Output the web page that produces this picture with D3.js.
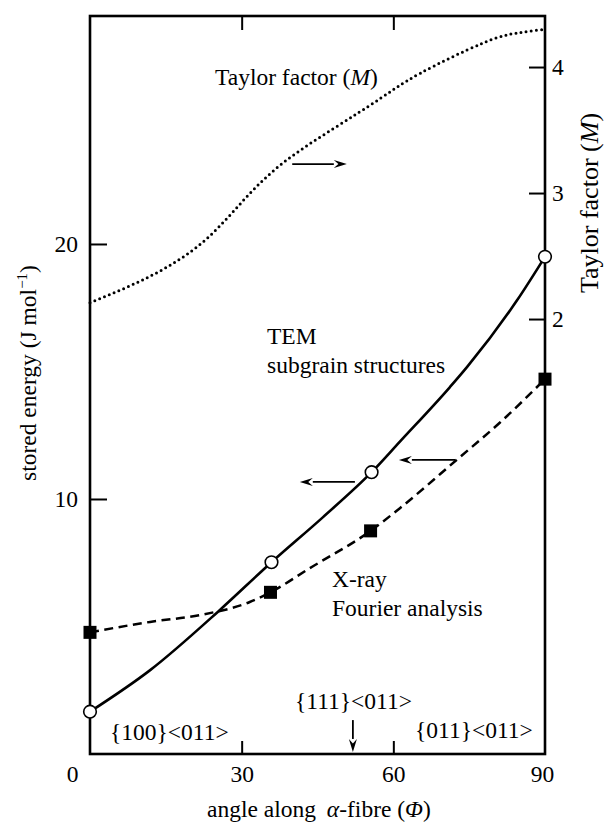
<!DOCTYPE html>
<html>
<head>
<meta charset="utf-8">
<script src="https://cdn.jsdelivr.net/npm/d3@7"></script>
<style>
  html, body { margin: 0; padding: 0; background: #fff; }
  svg { display: block; }
  text { font-family: "Liberation Serif", "Times New Roman", serif; fill: #000; }
</style>
</head>
<body>
<svg id="chart" width="605" height="829"></svg>
<script>
// Angle along the alpha-fibre (degrees)
const xTicks = [0, 30, 60, 90];
const energyTicks = [10, 20];
const taylorTicks = [2, 3, 4];

// TEM subgrain structures: measured points
const temPhi = [0, 35.9, 55.7, 90];
const temE = [1.66, 7.52, 11.05, 19.5];
// TEM fitted curve
const temCurvePhi = [0, 11.9, 25.7, 35.9, 46.1, 55.7, 61.3, 71.2, 74.6, 84.5, 90];
const temCurveE = [1.66, 3.29, 5.65, 7.52, 9.29, 11.05, 12.25, 14.39, 15.18, 17.8, 19.5];

// X-ray Fourier analysis: measured points
const xrayPhi = [0, 35.7, 55.5, 90];
const xrayE = [4.77, 6.34, 8.75, 14.7];
// X-ray fitted curve
const xrayCurvePhi = [0, 11.9, 21.8, 31.6, 35.7, 43.5, 55.5, 61.3, 72.5, 81.1, 90];
const xrayCurveE = [4.77, 5.18, 5.45, 5.96, 6.34, 7.29, 8.75, 9.64, 11.53, 13.0, 14.7];

// Taylor factor M along the fibre
const taylorPhi = [0, 11.9, 22.3, 30.3, 38.2, 48.1, 57.4, 65.3, 77.7, 84.5, 90];
const taylorM = [2.13, 2.34, 2.61, 2.94, 3.24, 3.51, 3.75, 3.95, 4.19, 4.27, 4.30];

// Texture component labels
const components = ["{100}<011>", "{111}<011>", "{011}<011>"];
const componentPhi111 = 52;

const FONT = 23.5;
const svg = d3.select("#chart");

const plotLeft = 90, plotRight = 545, plotTop = 16, plotBottom = 754;
const x = d3.scaleLinear().domain([0, 90]).range([plotLeft, plotRight]);
const y = d3.scaleLinear().domain([0, 28.94]).range([plotBottom, plotTop]);
const y2 = d3.scaleLinear().domain([-1.452, 4.405]).range([plotBottom, plotTop]);

// Frame
svg.append("rect")
  .attr("x", plotLeft).attr("y", plotTop)
  .attr("width", plotRight - plotLeft).attr("height", plotBottom - plotTop)
  .attr("fill", "none").attr("stroke", "#000").attr("stroke-width", 2.6);

function styleAxis(g) {
  g.select(".domain").remove();
  g.selectAll(".tick line").attr("stroke", "#000").attr("stroke-width", 2);
  g.selectAll(".tick text").attr("font-size", FONT)
    .attr("font-family", '"Liberation Serif", "Times New Roman", serif');
}

// Bottom axis
const gx = svg.append("g").attr("transform", `translate(0,${plotBottom})`)
  .call(d3.axisBottom(x).tickValues(xTicks).tickSizeInner(-13).tickSizeOuter(0).tickFormat(d3.format("d")))
  .call(styleAxis);
gx.selectAll(".tick text").attr("y", 28).attr("dy", 0)
  .attr("dx", d => d === 0 ? -18 : (d === 90 ? -3 : 0));
gx.selectAll(".tick").filter(d => d === 0 || d === 90).select("line").remove();

// Top axis (ticks only)
svg.append("g").attr("transform", `translate(0,${plotTop})`)
  .call(d3.axisTop(x).tickValues([30, 60]).tickSizeInner(-14).tickSizeOuter(0).tickFormat(""))
  .call(styleAxis);

// Left axis: stored energy
svg.append("g").attr("transform", `translate(${plotLeft},0)`)
  .call(d3.axisLeft(y).tickValues(energyTicks).tickSizeInner(-17).tickSizeOuter(0).tickPadding(12).tickFormat(d3.format("d")))
  .call(styleAxis);

// Right axis: Taylor factor
svg.append("g").attr("transform", `translate(${plotRight},0)`)
  .call(d3.axisRight(y2).tickValues(taylorTicks).tickSizeInner(-16).tickSizeOuter(0).tickPadding(7).tickFormat(d3.format("d")))
  .call(styleAxis);

// Curves
const lineE = d3.line().x(d => x(d[0])).y(d => y(d[1])).curve(d3.curveMonotoneX);
const lineM = d3.line().x(d => x(d[0])).y(d => y2(d[1])).curve(d3.curveNatural);

svg.append("path")
  .datum(taylorPhi.map((p, i) => [p, taylorM[i]]))
  .attr("d", lineM).attr("fill", "none").attr("stroke", "#000")
  .attr("stroke-width", 3).attr("stroke-linecap", "round").attr("stroke-dasharray", "0 5.2");

svg.append("path")
  .datum(xrayCurvePhi.map((p, i) => [p, xrayCurveE[i]]))
  .attr("d", lineE).attr("fill", "none").attr("stroke", "#000")
  .attr("stroke-width", 2.5).attr("stroke-dasharray", "9 5.5");

svg.append("path")
  .datum(temCurvePhi.map((p, i) => [p, temCurveE[i]]))
  .attr("d", lineE).attr("fill", "none").attr("stroke", "#000")
  .attr("stroke-width", 2.6);

// Markers
svg.append("g").selectAll("rect")
  .data(xrayPhi.map((p, i) => [p, xrayE[i]]))
  .join("rect")
  .attr("x", d => x(d[0]) - 6.5).attr("y", d => y(d[1]) - 6.5)
  .attr("width", 13).attr("height", 13).attr("fill", "#000");

svg.append("g").selectAll("circle")
  .data(temPhi.map((p, i) => [p, temE[i]]))
  .join("circle")
  .attr("cx", d => x(d[0])).attr("cy", d => y(d[1])).attr("r", 6.3)
  .attr("fill", "#fff").attr("stroke", "#000").attr("stroke-width", 1.6);

// Arrows pointing to the relevant axis
function arrow(x1, y1, x2, y2p) {
  const ang = Math.atan2(y2p - y1, x2 - x1);
  const len = 13, half = 4;
  const bx = x2 - len * Math.cos(ang), by = y2p - len * Math.sin(ang);
  svg.append("line").attr("x1", x1).attr("y1", y1).attr("x2", bx).attr("y2", by)
    .attr("stroke", "#000").attr("stroke-width", 1.8);
  const px = -Math.sin(ang) * half, py = Math.cos(ang) * half;
  svg.append("path")
    .attr("d", `M${x2},${y2p}L${bx + px},${by + py}L${bx + 0.35 * len * Math.cos(ang)},${by + 0.35 * len * Math.sin(ang)}L${bx - px},${by - py}Z`)
    .attr("fill", "#000");
}
arrow(x(40), y2(3.23), x(50.8), y2(3.23));
arrow(x(52.4), y(10.67), x(41.5), y(10.67));
arrow(x(72.2), y(11.53), x(61.1), y(11.53));
arrow(x(componentPhi111), y(1.33), x(componentPhi111), y(0.08));

// Text annotations
function label(tx, ty, parts, anchor) {
  const t = svg.append("text").attr("x", tx).attr("y", ty).attr("font-size", FONT)
    .attr("text-anchor", anchor || "start");
  parts.forEach(p => {
    const s = t.append("tspan").text(p.t);
    if (p.i) s.attr("font-style", "italic");
    if (p.dx) s.attr("dx", p.dx);
  });
  return t;
}

label(215, 85, [{t: "Taylor factor ("}, {t: "M", i: true}, {t: ")"}]);
label(267, 344, [{t: "TEM"}]);
label(267, 373, [{t: "subgrain structures"}]);
label(332, 587, [{t: "X-ray"}]);
label(332, 616, [{t: "Fourier analysis"}]);
label(110, 740, [{t: components[0]}]);
label(295, 709, [{t: components[1]}]);
label(415, 738, [{t: components[2]}]);

// Axis titles
label(207, 817, [{t: "angle along "}, {t: "α", i: true, dx: 5}, {t: "-fibre ("}, {t: "Φ", i: true}, {t: ")"}]);

const yl = svg.append("text").attr("transform", "translate(36,373) rotate(-90)")
  .attr("text-anchor", "middle").attr("font-size", FONT);
yl.append("tspan").text("stored energy (J mol");
yl.append("tspan").text("−1").attr("font-size", 15).attr("dy", -9);
yl.append("tspan").text(")").attr("font-size", FONT).attr("dy", 9);

const yr = svg.append("text").attr("transform", "translate(598,203) rotate(-90)")
  .attr("text-anchor", "middle").attr("font-size", 26);
yr.append("tspan").text("Taylor factor (");
yr.append("tspan").text("M").attr("font-style", "italic");
yr.append("tspan").text(")");
</script>
</body>
</html>
